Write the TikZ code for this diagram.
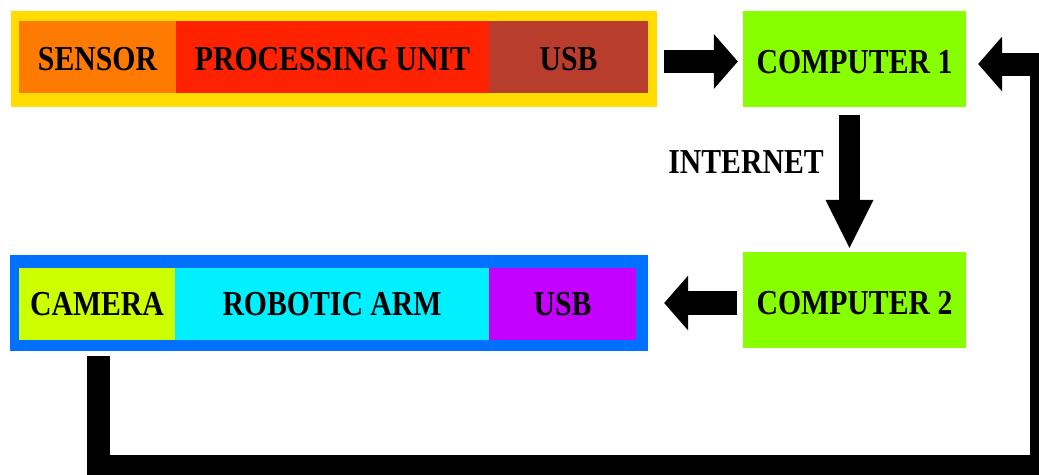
\documentclass[tikz,border=0pt]{standalone}
\usepackage{fontspec}
\setmainfont{Liberation Serif}[FakeStretch=0.85]
\usetikzlibrary{arrows.meta}

\definecolor{frameyellow}{HTML}{FFDD00}
\definecolor{sensorfill}{HTML}{FF7A00}
\definecolor{procfill}{HTML}{FF2200}
\definecolor{usbred}{HTML}{B83D2D}
\definecolor{pcgreen}{HTML}{88FF00}
\definecolor{frameblue}{HTML}{0070FF}
\definecolor{camfill}{HTML}{CCFF00}
\definecolor{armfill}{HTML}{00F0FF}
\definecolor{usbviolet}{HTML}{C400FF}

\begin{document}
\begin{tikzpicture}[x=1pt, y=-1pt,
  labelfont/.style={font=\fontsize{35}{40}\selectfont\bfseries},
  frame/.style={inner sep=0pt, minimum height=96pt},
  cell/.style={labelfont, inner sep=0pt, minimum height=72pt,
    text height=27pt, text depth=0pt},
  lowcell/.style={cell, text height=23pt},
  pcbox/.style={labelfont, fill=pcgreen, inner sep=0pt,
    minimum width=223pt, minimum height=96pt, text height=28pt, text depth=0pt},
  flatarrow/.style={line width=#1, line cap=butt},
  sidehead/.style={-{Triangle[length=24pt, width=55pt, line width=0pt]}},
  downhead/.style={-{Triangle[length=48pt, width=48pt, line width=0pt]}}
]
\useasboundingbox (0,0) rectangle (1039,474);
\clip (0,0) rectangle (1039,474);

% sensor board
\node[frame, fill=frameyellow, minimum width=646pt] (board) at (334,59) {};
\node[cell, fill=sensorfill, minimum width=157pt] (sensor) at (97.5,57) {SENSOR};
\node[cell, fill=procfill, minimum width=313pt] (proc) at (332.5,57) {PROCESSING UNIT};
\node[cell, fill=usbred, minimum width=159pt] (usbA) at (568.5,57) {USB};

% computers
\node[pcbox] (pcA) at (854.5,59) {COMPUTER 1};
\node[pcbox] (pcB) at (854.5,300) {COMPUTER 2};

% robot board
\node[frame, fill=frameblue, minimum width=638pt] (robot) at (329,303) {};
\node[lowcell, fill=camfill, minimum width=156pt] (camera) at (97,303.5) {CAMERA};
\node[lowcell, fill=armfill, minimum width=314pt] (arm) at (332,303.5) {ROBOTIC ARM};
\node[lowcell, fill=usbviolet, minimum width=147pt] (usbB) at (562.5,303.5) {USB};

% data flow
\draw[flatarrow=23pt, sidehead] ([xshift=7pt, yshift=-2.5pt]board.east) -- ([xshift=-5pt, yshift=-2.5pt]board.east -| pcA.west);
\draw[flatarrow=21pt, downhead] ([xshift=-5pt, yshift=-8pt]pcA.south) -- ([xshift=-5pt, yshift=4pt]pcA.south |- pcB.north);
\node[labelfont, inner sep=0pt, text height=23pt, text depth=0pt] (net) at (746,161.5) {INTERNET};
\draw[flatarrow=24pt, sidehead] ([xshift=-6pt]pcB.west |- robot.east) -- ([xshift=16pt]robot.east);

% camera feedback loop
\coordinate (loopcorner) at (1041,466);
\draw[flatarrow=23pt, line join=miter, sidehead]
  ([xshift=1pt, yshift=-16pt]camera.south) |- (loopcorner) |- ([xshift=12pt, yshift=-5pt]pcA.east);
\end{tikzpicture}
\end{document}
